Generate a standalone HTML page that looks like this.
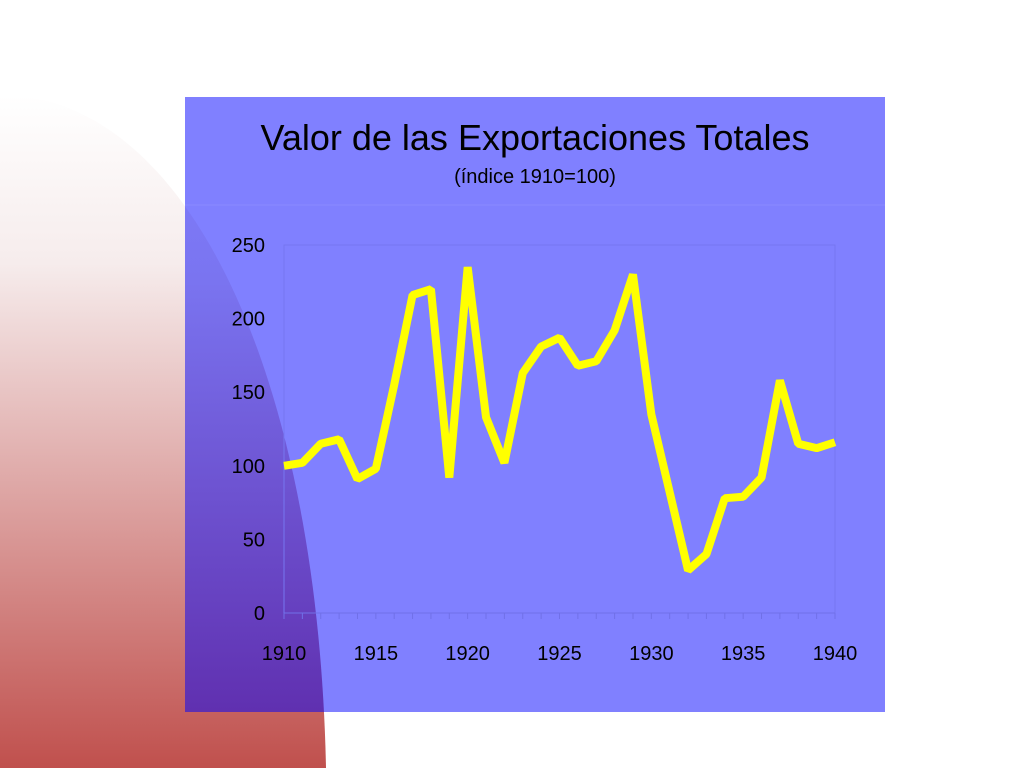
<!DOCTYPE html>
<html><head><meta charset="utf-8"><style>
html,body{margin:0;padding:0;background:#fff;}
svg{display:block;font-family:"Liberation Sans",Arial,sans-serif;}
</style></head><body>
<svg width="1024" height="768" viewBox="0 0 1024 768">
<defs>
<linearGradient id="redg" x1="0" y1="0" x2="0" y2="1">
<stop offset="0" stop-color="#ffffff"/><stop offset="0.25" stop-color="#f6ecec"/><stop offset="1" stop-color="#c0504d"/>
</linearGradient>
<linearGradient id="purg" x1="0" y1="0" x2="0" y2="1">
<stop offset="0" stop-color="#8080ff"/><stop offset="0.3" stop-color="#7a74f0"/><stop offset="1" stop-color="#6030b0"/>
</linearGradient>
<clipPath id="arc"><path d="M0,95 C190,95 318,380 326,768 L0,768 Z"/></clipPath>
</defs>
<path d="M0,95 C190,95 318,380 326,768 L0,768 Z" fill="url(#redg)"/>
<rect x="185" y="97" width="700" height="615" fill="#8080ff"/>
<rect x="185" y="97" width="700" height="615" fill="url(#purg)" clip-path="url(#arc)"/>
<line x1="185" y1="205" x2="885" y2="205" stroke="#8a8aff" stroke-width="1"/>
<text x="535" y="150" text-anchor="middle" font-size="36" fill="#000">Valor de las Exportaciones Totales</text>
<text x="535" y="183" text-anchor="middle" font-size="20" fill="#000">(índice 1910=100)</text>
<g id="plot"></g>
</svg>
<script>
const years=[1910,1911,1912,1913,1914,1915,1916,1917,1918,1919,1920,1921,1922,1923,1924,1925,1926,1927,1928,1929,1930,1931,1932,1933,1934,1935,1936,1937,1938,1939,1940];
const values=[100,102,115,118,91,98,155,216,220,92,235,133,102,163,181,187,168,171,192,230,135,82,29,40,78,79,92,158,115,112,116];
const yTicks=[0,50,100,150,200,250];
const xTicks=[1910,1915,1920,1925,1930,1935,1940];
const NS="http://www.w3.org/2000/svg";
const g=document.getElementById('plot');
const x=v=>284+(v-1910)*(551/30);
const y=v=>613-v*(368/250);
function mk(t,a){const e=document.createElementNS(NS,t);for(const k in a)e.setAttribute(k,a[k]);g.appendChild(e);return e;}
let e=mk('rect',{x:x(1910),y:y(250),width:x(1940)-x(1910),height:y(0)-y(250),fill:'none',stroke:'#7676f0','stroke-width':1});


e=mk('line',{x1:x(1910),y1:y(0),x2:x(1940),y2:y(0),stroke:'#7070e8','stroke-width':1});


years.forEach(yr=>{const t=mk('line',{x1:x(yr),y1:y(0),x2:x(yr),y2:y(0)+6,stroke:'#7070e8','stroke-width':1});

});
yTicks.forEach(v=>{const t=mk('text',{x:265,y:y(v)+7,'text-anchor':'end','font-size':20,fill:'#000'});t.textContent=v;

});
xTicks.forEach(v=>{const t=mk('text',{x:x(v),y:660,'text-anchor':'middle','font-size':20,fill:'#000'});t.textContent=v;

});
const p=mk('polyline',{points:years.map((yr,i)=>x(yr)+','+y(values[i])).join(' '),fill:'none',stroke:'#ffff00','stroke-width':8,'stroke-linejoin':'bevel','stroke-linecap':'butt'});


</script>
</body></html>
